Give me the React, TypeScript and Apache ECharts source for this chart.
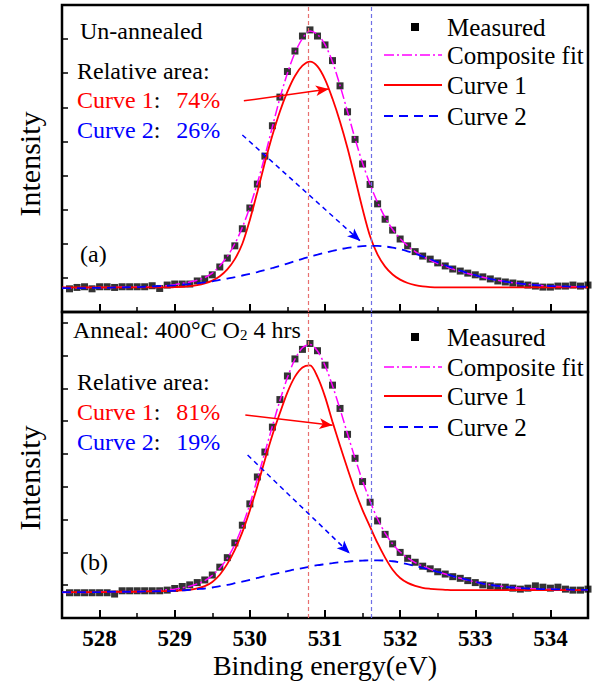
import React, { useEffect, useRef } from "react";
import * as echarts from "echarts";

const FONT = "'Liberation Serif', 'Times New Roman', Times, serif";

// Binding energy sampling (eV)
const ENERGY = [
  527.5, 527.6, 527.7, 527.8, 527.9, 528.0, 528.1, 528.2, 528.3, 528.4,
  528.5, 528.6, 528.7, 528.8, 528.9, 529.0, 529.1, 529.2, 529.3, 529.4,
  529.5, 529.6, 529.7, 529.8, 529.9, 530.0, 530.1, 530.2, 530.3, 530.4,
  530.5, 530.6, 530.7, 530.8, 530.9, 531.0, 531.1, 531.2, 531.3, 531.4,
  531.5, 531.6, 531.7, 531.8, 531.9, 532.0, 532.1, 532.2, 532.3, 532.4,
  532.5, 532.6, 532.7, 532.8, 532.9, 533.0, 533.1, 533.2, 533.3, 533.4,
  533.5, 533.6, 533.7, 533.8, 533.9, 534.0, 534.1, 534.2, 534.3, 534.4,
  534.5,
];
// measured points start at 527.6
const MEASURED_ENERGY = ENERGY.slice(1);

// ---- Panel (a): Un-annealed ----
const A_MEASURED = [
  0.68, 0.72, 0.74, 0.68, 0.74, 0.74, 0.72, 0.74, 0.74, 0.74, 0.74, 0.77, 0.69, 0.79,
  0.82, 0.82, 0.82, 0.91, 0.97, 1.09, 1.32, 1.58, 1.94, 2.44,
  3.05, 3.75, 4.57, 5.46, 6.30, 7.05, 7.65, 8.09, 8.27, 8.09,
  7.83, 7.37, 6.63, 5.87, 5.06, 4.34, 3.74, 3.17, 2.72, 2.40,
  2.14, 1.94, 1.77, 1.64, 1.55, 1.44, 1.35, 1.26, 1.20, 1.14,
  1.09, 1.03, 0.97, 0.91, 0.88, 0.85, 0.82, 0.79, 0.76, 0.73,
  0.73, 0.76, 0.76, 0.79, 0.76, 0.79,
];
const A_COMPOSITE = [
  0.71, 0.71, 0.71, 0.71, 0.72, 0.72, 0.72, 0.72, 0.73, 0.73, 0.73, 0.74, 0.74, 0.75, 0.77,
  0.80, 0.84, 0.88, 0.93, 1.01, 1.14, 1.35, 1.63, 2.00, 2.48,
  3.08, 3.78, 4.57, 5.43, 6.27, 7.00, 7.60, 8.02, 8.24, 8.14,
  7.84, 7.33, 6.64, 5.87, 5.08, 4.36, 3.74, 3.21, 2.77, 2.42,
  2.15, 1.94, 1.77, 1.63, 1.52, 1.42, 1.34, 1.26, 1.19, 1.13,
  1.07, 1.02, 0.97, 0.93, 0.89, 0.86, 0.83, 0.81, 0.79, 0.77,
  0.76, 0.75, 0.75, 0.74, 0.74, 0.74,
];
const A_CURVE1 = [
  0.72, 0.72, 0.72, 0.72, 0.72, 0.72, 0.72, 0.72, 0.72, 0.72, 0.72, 0.72, 0.72, 0.72, 0.72,
  0.73, 0.74, 0.76, 0.79, 0.84, 0.92, 1.05, 1.25, 1.55, 2.00,
  2.70, 3.52, 4.38, 5.18, 5.88, 6.46, 6.92, 7.22, 7.34, 7.20,
  6.82, 6.25, 5.58, 4.80, 3.92, 3.02, 2.22, 1.68, 1.33, 1.10,
  0.95, 0.85, 0.79, 0.75, 0.73, 0.72, 0.72, 0.72, 0.72, 0.72,
  0.72, 0.72, 0.72, 0.72, 0.72, 0.72, 0.72, 0.72, 0.72, 0.72,
  0.72, 0.72, 0.72, 0.72, 0.72, 0.72,
];
const A_CURVE2 = [
  0.70, 0.70, 0.70, 0.70, 0.71, 0.71, 0.71, 0.72, 0.72, 0.73, 0.73, 0.74, 0.75, 0.76, 0.77,
  0.78, 0.80, 0.82, 0.84, 0.87, 0.90, 0.94, 0.98, 1.02, 1.07,
  1.12, 1.17, 1.23, 1.29, 1.35, 1.42, 1.49, 1.56, 1.62, 1.68,
  1.74, 1.79, 1.84, 1.88, 1.91, 1.93, 1.94, 1.94, 1.92, 1.89,
  1.84, 1.78, 1.71, 1.63, 1.55, 1.46, 1.37, 1.29, 1.21, 1.14,
  1.08, 1.02, 0.97, 0.93, 0.89, 0.86, 0.83, 0.81, 0.79, 0.77,
  0.76, 0.75, 0.75, 0.74, 0.74, 0.74,
];

// ---- Panel (b): Anneal 400°C O2 4 hrs ----
const B_MEASURED = [
  0.77, 0.77, 0.77, 0.77, 0.77, 0.77, 0.73, 0.83, 0.83, 0.83, 0.83, 0.83, 0.83, 0.85,
  0.90, 0.96, 1.01, 1.08, 1.16, 1.31, 1.55, 1.84, 2.29, 2.83,
  3.48, 4.30, 5.06, 5.82, 6.66, 7.38, 7.90, 8.19, 8.37, 8.15,
  7.71, 7.10, 6.39, 5.60, 4.87, 4.16, 3.53, 2.96, 2.55, 2.26,
  2.00, 1.82, 1.70, 1.58, 1.50, 1.41, 1.34, 1.26, 1.21, 1.14,
  1.08, 1.01, 0.98, 0.95, 0.94, 0.91, 0.88, 0.91, 0.98, 0.94,
  0.91, 0.94, 0.88, 0.85, 0.85, 0.88,
];
const B_COMPOSITE = [
  0.78, 0.78, 0.78, 0.78, 0.78, 0.79, 0.79, 0.80, 0.80, 0.81, 0.81, 0.82, 0.83, 0.84, 0.86,
  0.88, 0.92, 0.97, 1.04, 1.14, 1.30, 1.52, 1.82, 2.24, 2.80,
  3.47, 4.25, 5.05, 5.85, 6.63, 7.33, 7.89, 8.24, 8.34, 8.14,
  7.70, 7.08, 6.37, 5.61, 4.87, 4.18, 3.56, 3.02, 2.59, 2.26,
  2.01, 1.83, 1.69, 1.58, 1.49, 1.41, 1.34, 1.27, 1.21, 1.15,
  1.10, 1.05, 1.01, 0.98, 0.95, 0.93, 0.91, 0.90, 0.89, 0.88,
  0.88, 0.87, 0.87, 0.86, 0.86, 0.86,
];
const B_CURVE1 = [
  0.79, 0.79, 0.79, 0.79, 0.79, 0.79, 0.79, 0.80, 0.80, 0.80, 0.80, 0.81, 0.81, 0.82, 0.82,
  0.83, 0.84, 0.86, 0.90, 0.97, 1.10, 1.32, 1.65, 2.08, 2.62,
  3.28, 4.02, 4.82, 5.58, 6.25, 6.88, 7.36, 7.64, 7.70, 7.35,
  6.75, 5.98, 5.25, 4.55, 3.88, 3.29, 2.78, 2.28, 1.84, 1.47,
  1.22, 1.07, 0.98, 0.92, 0.89, 0.87, 0.86, 0.85, 0.85, 0.85,
  0.85, 0.85, 0.85, 0.85, 0.85, 0.85, 0.85, 0.85, 0.85, 0.85,
  0.85, 0.85, 0.85, 0.85, 0.85, 0.85,
];
const B_CURVE2 = [
  0.79, 0.79, 0.79, 0.79, 0.79, 0.79, 0.80, 0.80, 0.80, 0.80, 0.80, 0.81, 0.81, 0.82, 0.82,
  0.83, 0.84, 0.86, 0.88, 0.90, 0.93, 0.97, 1.01, 1.06, 1.11,
  1.16, 1.22, 1.28, 1.33, 1.38, 1.43, 1.48, 1.52, 1.57, 1.61,
  1.64, 1.67, 1.70, 1.72, 1.74, 1.75, 1.76, 1.76, 1.75, 1.73,
  1.69, 1.64, 1.59, 1.53, 1.47, 1.41, 1.35, 1.28, 1.22, 1.16,
  1.10, 1.05, 1.01, 0.98, 0.95, 0.93, 0.91, 0.90, 0.89, 0.88,
  0.88, 0.87, 0.87, 0.86, 0.86, 0.86,
];

// ticks
const X_MAJOR = [528, 529, 530, 531, 532, 533, 534];
const X_MINOR = [528.5, 529.5, 530.5, 531.5, 532.5, 533.5];
// peak positions (vertical reference lines)
const PEAK_1 = 530.78;
const PEAK_2 = 531.62;
// annotation arrows [start, end] in data coordinates
const A_RED_ARROW = [[529.92, 6.19], [531.05, 6.54]];
const A_BLUE_ARROW = [[529.9, 5.19], [531.47, 2.08]];
const B_RED_ARROW = [[529.94, 6.19], [531.1, 5.88]];
const B_BLUE_ARROW = [[529.97, 4.97], [531.33, 1.97]];

const RED = "#ff0000";
const BLUE = "#0000ff";
const MAGENTA = "#ff00ff";

const pair = (xs: number[], ys: number[]) => xs.map((x, i) => [x, ys[i]]);

function panelSeries(
  idx: number,
  meas: number[],
  comp: number[],
  c1: number[],
  c2: number[],
  redArrow: number[][],
  blueArrow: number[][]
) {
  const xi = idx * 2;
  const yi = idx;
  return [
    {
      type: "scatter",
      name: "Measured",
      xAxisIndex: xi,
      yAxisIndex: yi,
      data: pair(MEASURED_ENERGY, meas),
      symbol: "rect",
      symbolSize: 7,
      itemStyle: { color: "#000" },
      z: 2,
      emphasis: { disabled: true },
    },
    {
      type: "line",
      name: "Composite fit",
      xAxisIndex: xi,
      yAxisIndex: yi,
      data: pair(ENERGY, comp),
      showSymbol: false,
      symbol: "none",
      smooth: 0.3,
      lineStyle: { color: MAGENTA, width: 1.5, type: [10, 3, 2, 3] },
      z: 3,
      emphasis: { disabled: true },
      markLine: {
        silent: true,
        symbol: ["none", "none"],
        label: { show: false },
        lineStyle: { type: [4, 3], width: 1.2 },
        data: [
          { xAxis: PEAK_1, lineStyle: { color: "#e87070", type: [4, 3], width: 1.2 } },
          { xAxis: PEAK_2, lineStyle: { color: "#6f6fe6", type: [4, 3], width: 1.2 } },
        ],
      },
    },
    {
      type: "line",
      name: "Curve 1",
      xAxisIndex: xi,
      yAxisIndex: yi,
      data: pair(ENERGY, c1),
      showSymbol: false,
      symbol: "none",
      smooth: 0.3,
      lineStyle: { color: RED, width: 1.8, type: "solid" },
      z: 4,
      emphasis: { disabled: true },
      markLine: {
        silent: true,
        symbol: ["none", "arrow"],
        symbolSize: [8, 13],
        label: { show: false },
        lineStyle: { color: RED, width: 1.5, type: "solid" },
        data: [[{ coord: redArrow[0] }, { coord: redArrow[1] }]],
      },
    },
    {
      type: "line",
      name: "Curve 2",
      xAxisIndex: xi,
      yAxisIndex: yi,
      data: pair(ENERGY, c2),
      showSymbol: false,
      symbol: "none",
      smooth: 0.3,
      lineStyle: { color: BLUE, width: 1.8, type: [9, 6] },
      z: 4,
      emphasis: { disabled: true },
      markLine: {
        silent: true,
        symbol: ["none", "arrow"],
        symbolSize: [8, 13],
        label: { show: false },
        lineStyle: { color: BLUE, width: 1.5, type: [5, 4] },
        data: [[{ coord: blueArrow[0] }, { coord: blueArrow[1] }]],
      },
    },
  ];
}

function xAxesFor(gridIndex: number, withLabels: boolean) {
  const major: any = {
    gridIndex,
    type: "value",
    min: 527.5,
    max: 534.5,
    position: "bottom",
    axisLine: { show: false },
    axisTick: {
      show: true,
      inside: true,
      length: 8,
      customValues: X_MAJOR,
      lineStyle: { color: "#000", width: 2 },
    },
    splitLine: { show: false },
    axisLabel: withLabels
      ? {
          show: true,
          customValues: X_MAJOR,
          fontFamily: FONT,
          fontSize: 23,
          fontWeight: "bold",
          color: "#000",
          margin: 9,
        }
      : { show: false },
  };
  if (withLabels) {
    major.name = "Binding energy(eV)";
    major.nameLocation = "middle";
    major.nameGap = 33;
    major.nameTextStyle = { fontFamily: FONT, fontSize: 28, color: "#000" };
  }
  const minor = {
    gridIndex,
    type: "value",
    min: 527.5,
    max: 534.5,
    position: "bottom",
    axisLine: { show: false },
    axisTick: {
      show: true,
      inside: true,
      length: 5,
      customValues: X_MINOR,
      lineStyle: { color: "#000", width: 1.5 },
    },
    splitLine: { show: false },
    axisLabel: { show: false },
  };
  return [major, minor];
}

function yAxisFor(gridIndex: number, max: number) {
  return {
    gridIndex,
    type: "value",
    min: 0,
    max,
    interval: 1,
    axisLine: { show: false },
    axisTick: { show: true, inside: true, length: 6, lineStyle: { color: "#000", width: 1.5 } },
    axisLabel: { show: false },
    splitLine: { show: false },
  };
}

function txt(text: string, x: number, y: number, size: number, fill = "#000", extra: any = {}) {
  return {
    type: "text",
    x,
    y,
    silent: true,
    style: {
      text,
      fontSize: size,
      fontFamily: FONT,
      fill,
      align: "left",
      verticalAlign: "middle",
      ...extra,
    },
  };
}

function curveLabel(name: string, pct: string, color: string, x: number, y: number) {
  const base = { fontSize: 24, fontFamily: FONT };
  return {
    type: "text",
    x,
    y,
    silent: true,
    style: {
      text: `{c|${name}}{k|:}{n|${pct}}`,
      align: "left",
      verticalAlign: "middle",
      rich: {
        c: { ...base, fill: color },
        k: { ...base, fill: "#000" },
        n: { ...base, fill: color, padding: [0, 0, 0, 16] },
      },
    },
  };
}

function legend(rows: number[]) {
  const lx1 = 384;
  const lx2 = 442;
  const tx = 447;
  const fs = 25;
  return [
    {
      type: "rect",
      silent: true,
      shape: { x: 411, y: rows[0] - 4, width: 8, height: 8 },
      style: { fill: "#000" },
    },
    txt("Measured", tx, rows[0], fs),
    {
      type: "line",
      silent: true,
      shape: { x1: lx1, y1: rows[1], x2: lx2, y2: rows[1] },
      style: { stroke: MAGENTA, lineWidth: 1.5, lineDash: [10, 3, 2, 3] },
    },
    txt("Composite fit", tx, rows[1], fs),
    {
      type: "line",
      silent: true,
      shape: { x1: lx1, y1: rows[2], x2: lx2, y2: rows[2] },
      style: { stroke: RED, lineWidth: 1.8 },
    },
    txt("Curve 1", tx, rows[2], fs),
    {
      type: "line",
      silent: true,
      shape: { x1: lx1, y1: rows[3], x2: lx2, y2: rows[3] },
      style: { stroke: BLUE, lineWidth: 1.8, lineDash: [9, 6] },
    },
    txt("Curve 2", tx, rows[3], fs),
  ];
}

const option: any = {
  animation: false,
  backgroundColor: "#fff",
  textStyle: { fontFamily: FONT },
  grid: [
    { left: 62, top: 5, width: 526, height: 307, show: true, borderColor: "#000", borderWidth: 2.5, backgroundColor: "transparent" },
    { left: 62, top: 312, width: 526, height: 306, show: true, borderColor: "#000", borderWidth: 2.5, backgroundColor: "transparent" },
  ],
  xAxis: [...xAxesFor(0, false), ...xAxesFor(1, true)],
  yAxis: [yAxisFor(0, 9), yAxisFor(1, 9.33)],
  series: [
    ...panelSeries(0, A_MEASURED, A_COMPOSITE, A_CURVE1, A_CURVE2, A_RED_ARROW, A_BLUE_ARROW),
    ...panelSeries(1, B_MEASURED, B_COMPOSITE, B_CURVE1, B_CURVE2, B_RED_ARROW, B_BLUE_ARROW),
  ],
  graphic: [
    // y axis titles
    {
      type: "text",
      x: 29,
      y: 164,
      rotation: Math.PI / 2,
      silent: true,
      style: { text: "Intensity", fontSize: 30, fontFamily: FONT, fill: "#000", align: "center", verticalAlign: "middle" },
    },
    {
      type: "text",
      x: 29,
      y: 478,
      rotation: Math.PI / 2,
      silent: true,
      style: { text: "Intensity", fontSize: 30, fontFamily: FONT, fill: "#000", align: "center", verticalAlign: "middle" },
    },
    // panel (a) annotations
    txt("Un-annealed", 80, 31, 24),
    txt("Relative area:", 77, 71, 24),
    curveLabel("Curve 1", "74%", RED, 77, 100),
    curveLabel("Curve 2", "26%", BLUE, 77, 130),
    txt("(a)", 80, 254, 24),
    // panel (b) annotations
    {
      type: "text",
      x: 73,
      y: 330,
      silent: true,
      style: {
        text: "{a|Anneal: 400°C O}{s|2}{a| 4 hrs}",
        align: "left",
        verticalAlign: "middle",
        rich: {
          a: { fontSize: 24, fontFamily: FONT, fill: "#000", verticalAlign: "top", lineHeight: 24, padding: [0, 0, 7, 0] },
          s: { fontSize: 15, fontFamily: FONT, fill: "#000", verticalAlign: "bottom", lineHeight: 15 },
        },
      },
    },
    txt("Relative area:", 77, 382, 24),
    curveLabel("Curve 1", "81%", RED, 77, 412),
    curveLabel("Curve 2", "19%", BLUE, 77, 442),
    txt("(b)", 80, 562, 24),
    // legends
    ...legend([27, 55, 85, 116]),
    ...legend([337, 367, 396, 427]),
  ],
};

export default function App() {
  const ref = useRef<HTMLDivElement>(null);
  useEffect(() => {
    const chart = echarts.init(ref.current!, null, { renderer: "svg" });
    chart.setOption(option);
    return () => {
      chart.dispose();
    };
  }, []);
  return (
    <div
      ref={ref}
      style={{ position: "absolute", left: 0, top: 0, width: 597, height: 689, background: "#fff" }}
    />
  );
}
